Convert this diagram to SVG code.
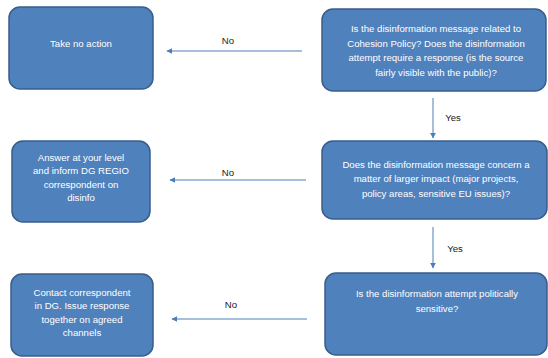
<svg xmlns="http://www.w3.org/2000/svg" width="548" height="358" viewBox="0 0 548 358">
<defs>
<marker id="ah" viewBox="0 0 10 10" refX="9" refY="5" markerWidth="6" markerHeight="6" orient="auto" markerUnits="userSpaceOnUse">
<path d="M0,0 L10,5 L0,10 z" fill="#4a7ebb"/>
</marker>
<style>
.box{fill:#4f81bd;stroke:#385d8a;stroke-width:1.5}
.t{font-family:"Liberation Sans",Arial,sans-serif;font-size:9.6px;fill:#ffffff;text-anchor:middle}
.l{font-family:"Liberation Sans",Arial,sans-serif;font-size:9.6px;fill:#222222;text-anchor:middle}
.c{stroke:#4a7ebb;stroke-width:1;fill:none;marker-end:url(#ah)}
</style>
</defs>
<rect width="548" height="358" fill="#ffffff"/>
<g id="connectors">
<line class="c" x1="302" y1="51" x2="167" y2="51"/>
<line class="c" x1="306" y1="180" x2="170" y2="180"/>
<line class="c" x1="307" y1="319" x2="172" y2="319"/>
<line class="c" x1="433" y1="98" x2="433" y2="138"/>
<line class="c" x1="433" y1="227" x2="433" y2="268"/>
<text class="l" x="228" y="44">No</text>
<text class="l" x="228" y="176">No</text>
<text class="l" x="231" y="308">No</text>
<text class="l" x="453" y="121">Yes</text>
<text class="l" x="455" y="252">Yes</text>
</g>
<g id="take-no-action">
<rect class="box" x="9" y="7" width="144" height="82" rx="11"/>
<text class="t" x="81" y="47">Take no action</text>
</g>
<g id="q1">
<rect class="box" x="322" y="9" width="224" height="82" rx="11"/>
<text class="t" x="436" y="32">Is the disinformation message related to</text>
<text class="t" x="436" y="47">Cohesion Policy? Does the disinformation</text>
<text class="t" x="436" y="61">attempt require a response (is the source</text>
<text class="t" x="436" y="76">fairly visible with the public)?</text>
</g>
<g id="q2">
<rect class="box" x="322" y="141" width="225" height="78" rx="11"/>
<text class="t" x="436" y="168">Does the disinformation message concern a</text>
<text class="t" x="436" y="182">matter of larger impact (major projects,</text>
<text class="t" x="436" y="197">policy areas, sensitive EU issues)?</text>
</g>
<g id="answer">
<rect class="box" x="12" y="141" width="138" height="81" rx="11"/>
<text class="t" x="81" y="160.5">Answer at your level</text>
<text class="t" x="81" y="174">and inform DG REGIO</text>
<text class="t" x="81" y="187.5">correspondent on</text>
<text class="t" x="81" y="201">disinfo</text>
</g>
<g id="q3">
<rect class="box" x="325" y="273" width="222" height="82" rx="11"/>
<text class="t" x="437" y="297">Is the disinformation attempt politically</text>
<text class="t" x="437" y="312">sensitive?</text>
</g>
<g id="contact">
<rect class="box" x="11" y="274" width="142" height="82" rx="11"/>
<text class="t" x="82" y="295.5">Contact correspondent</text>
<text class="t" x="82" y="309">in DG. Issue response</text>
<text class="t" x="82" y="323">together on agreed</text>
<text class="t" x="82" y="336">channels</text>
</g>
</svg>
